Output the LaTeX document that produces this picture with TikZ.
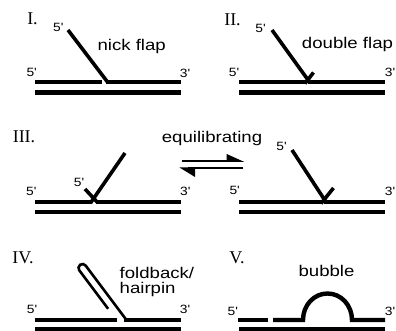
\documentclass[tikz,border=0pt]{standalone}
\usepackage{fontspec}
\newfontfamily\hv[Ligatures=TeXOff]{Liberation Sans}
\newfontfamily\tm{Liberation Serif}
\newcommand{\wx}[2]{\scalebox{#1}[1]{#2}}
\newcommand{\lab}[1]{\wx{1.15}{#1}}
\newcommand{\bigtx}[1]{\wx{1.2}{#1}}
\tikzset{
  strand/.style={line width=4.8pt},
  flap/.style={line width=3.6pt},
  hair/.style={line width=2.6pt},
  bub/.style={line width=4.4pt},
  harp/.style={line width=2pt},
  num/.style={inner sep=0pt, font=\tm\fontsize{18}{20}\selectfont},
  lbl/.style={inner sep=0pt, font=\hv\fontsize{12}{14}\selectfont},
  txt/.style={inner sep=0pt, font=\hv\fontsize{15.5}{18}\selectfont},
}
\begin{document}
\begin{tikzpicture}[x=1pt,y=-1pt]
\useasboundingbox (0,0) rectangle (396,331);

% ---------- Panel I ----------
\node[num] (n1) at (32.5,18.5) {I.};
\node[lbl] (p1a) at (58.3,27.8) {\lab{5'}};
\node[txt] (t1) at (131.7,46) {\bigtx{nick flap}};
\node[lbl] (p1b) at (31.7,72.7) {\lab{5'}};
\node[lbl] (p1c) at (185,73) {\lab{3'}};
\draw[strand] (35,82) -- (102,82);
\draw[flap] (68,30) -- (107.5,82);
\draw[strand] (105.5,82) -- (181,82);
\draw[strand] (35,92.5) -- (181,92.5);

% ---------- Panel II ----------
\node[num] (n2) at (232.5,19.5) {II.};
\node[lbl] (p2a) at (260.5,28) {\lab{5'}};
\node[txt] (t2) at (347.5,44) {\bigtx{double flap}};
\node[lbl] (p2b) at (234,72) {\lab{5'}};
\node[lbl] (p2c) at (390,72) {\lab{3'}};
\draw[strand] (239,82) -- (307,82);
\draw[flap] (305,83.5) -- (313.5,72.5);
\draw[flap] (272,30) -- (309.5,82);
\draw[strand] (308,82) -- (385,82);
\draw[strand] (239,92.5) -- (385,92.5);

% ---------- Panel III ----------
\node[num] (n3) at (24,137) {III.};
\node[lbl] (p3a) at (79,182) {\lab{5'}};
\node[lbl] (p3b) at (31.3,191) {\lab{5'}};
\node[lbl] (p3c) at (185.3,191) {\lab{3'}};
\draw[strand] (35,202) -- (92,202);
\draw[flap] (90.5,203) -- (125,153);
\draw[flap] (85,189) -- (98,203);
\draw[strand] (96,202) -- (181,202);
\draw[strand] (35,212) -- (181,212);

\node[txt] (eq) at (212,138) {\bigtx{equilibrating}};
\coordinate (r1) at (181.7,160.8);
\coordinate (r2) at (236,160.8);
\draw[harp] (r1) -- (r2);
\fill (244,161.8) -- (226.7,154) -- (226.7,161.8) -- cycle;
\coordinate (l1) at (243.3,168.5);
\coordinate (l2) at (188,168.5);
\draw[harp] (l1) -- (l2);
\fill (179.5,167.5) -- (195,177) -- (195,167.5) -- cycle;

\node[lbl] (p3d) at (281.5,146.5) {\lab{5'}};
\node[lbl] (p3e) at (234.7,190.7) {\lab{5'}};
\node[lbl] (p3f) at (390,191) {\lab{3'}};
\draw[strand] (239,202) -- (323,202);
\draw[flap] (321,203.5) -- (333.5,188);
\draw[flap] (292,150) -- (326,202);
\draw[strand] (324,202) -- (385,202);
\draw[strand] (239,212) -- (385,212);

% ---------- Panel IV ----------
\node[num] (n4) at (23,258) {IV.};
\node[txt, anchor=base west] (t4a) at (119.5,278) {\bigtx{foldback/}};
\node[txt, anchor=base west] (t4b) at (119.5,293.5) {\bigtx{hairpin}};
\node[lbl] (p4a) at (32,309.3) {\lab{5'}};
\node[lbl] (p4b) at (185,309) {\lab{3'}};
\draw[strand] (35,320) -- (117,320);
\draw[hair] (108.1,308.8) -- (79.3,270.4)
  .. controls (77.97,268.63) and (78.33,266.13) .. (80.1,264.8)
  .. controls (81.87,263.47) and (84.37,263.83) .. (85.7,265.6)
  -- (125.7,319);
\draw[strand] (123.5,320) -- (181,320);
\draw[strand] (35,329.5) -- (181,329.5);

% ---------- Panel V ----------
\node[num] (n5) at (237,258) {V.};
\node[txt] (t5) at (326.5,271) {\bigtx{bubble}};
\node[lbl] (p5a) at (232.8,311.3) {\lab{5'}};
\node[lbl] (p5b) at (390,311) {\lab{3'}};
\draw[strand] (238,320) -- (268,320);
\draw[bub] (273,320) -- (303,320)
  .. controls (303,305.1) and (314,293.5) .. (327.5,293.5)
  .. controls (341,293.5) and (352,305.1) .. (352,320)
  -- (385,320);
\draw[strand] (239,329.5) -- (385,329.5);
\end{tikzpicture}
\end{document}
